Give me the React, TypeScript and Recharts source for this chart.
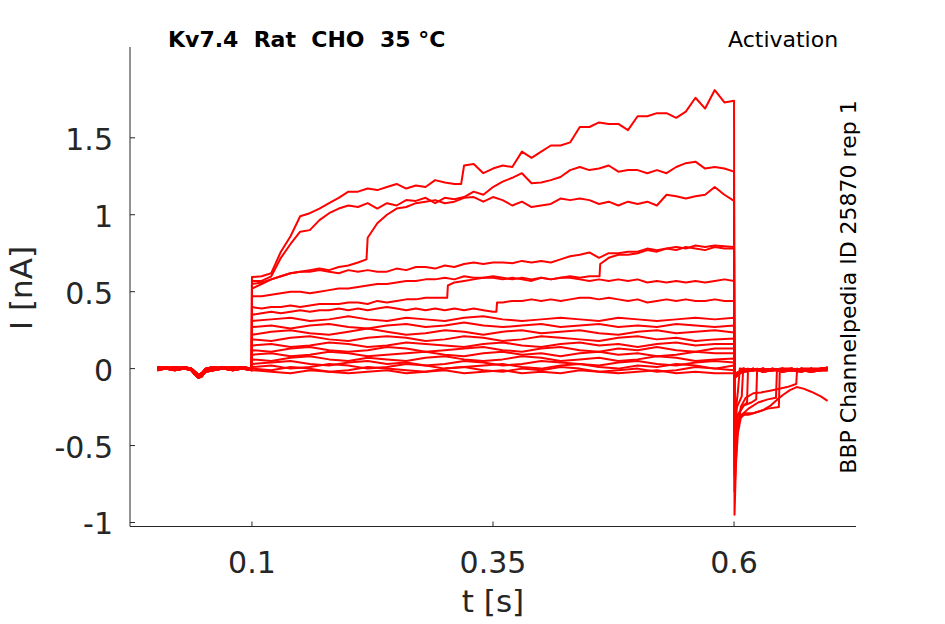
import React from "react";
import { LineChart, Line, XAxis, YAxis } from "recharts";

// ---- time grids (s) ----
const baseT = [0.002, 0.01, 0.02, 0.03, 0.037, 0.041, 0.0445, 0.048, 0.052, 0.06, 0.07, 0.08, 0.09, 0.0998];
const fineT = [
  0.1, 0.11, 0.12, 0.13, 0.14, 0.15, 0.16, 0.17, 0.18, 0.19,
  0.2, 0.21, 0.22, 0.23, 0.24, 0.25, 0.26, 0.27, 0.28, 0.29,
  0.3, 0.31, 0.32, 0.33, 0.34, 0.35, 0.36, 0.37, 0.38, 0.39,
  0.4, 0.41, 0.42, 0.43, 0.44, 0.45, 0.46, 0.47, 0.48, 0.49,
  0.5, 0.51, 0.52, 0.53, 0.54, 0.55, 0.56, 0.57, 0.58, 0.59, 0.6,
];
const coarseT = [
  0.1, 0.12, 0.14, 0.16, 0.18, 0.2, 0.22, 0.24, 0.26, 0.28, 0.3, 0.32, 0.34,
  0.36, 0.38, 0.4, 0.42, 0.44, 0.46, 0.48, 0.5, 0.52, 0.54, 0.56, 0.58, 0.6,
];
const tailT = [0.6005, 0.61, 0.62, 0.63, 0.64, 0.65, 0.66, 0.67, 0.68, 0.69, 0.697];

// ---- holding baseline (nA) ----
const base1 = [0.01, 0.0, 0.01, 0.0, 0.0, -0.03, -0.05, -0.04, -0.01, 0.0, 0.01, 0.0, 0.01, 0.0];
const base2 = [-0.01, 0.0, -0.01, 0.0, -0.01, -0.04, -0.06, -0.05, -0.02, -0.01, 0.0, -0.01, 0.0, -0.01];
const base3 = [0.0, 0.01, 0.0, 0.01, 0.0, -0.02, -0.04, -0.03, 0.0, 0.01, 0.0, 0.01, 0.0, 0.0];

// ---- large sweeps during the step (fine grid) ----
const sweepA = [
  0.595, 0.6, 0.62, 0.76, 0.86, 0.99, 1.01, 1.04, 1.075, 1.11,
  1.15, 1.15, 1.17, 1.16, 1.18, 1.2, 1.17, 1.19, 1.18, 1.225,
  1.21, 1.2, 1.32, 1.33, 1.27, 1.3, 1.32, 1.31, 1.41, 1.37,
  1.41, 1.45, 1.45, 1.47, 1.57, 1.57, 1.6, 1.59, 1.59, 1.55,
  1.64, 1.64, 1.66, 1.66, 1.63, 1.67, 1.76, 1.69, 1.81, 1.73, 1.74,
];
const jumpsA = [[0.317, 1.2]];
const sweepB = [
  0.57, 0.57, 0.6, 0.72, 0.81, 0.89, 0.9, 0.965, 1.01, 1.04,
  1.06, 1.05, 1.075, 1.04, 1.075, 1.06, 1.095, 1.09, 1.11, 1.075,
  1.11, 1.1, 1.115, 1.15, 1.13, 1.18, 1.215, 1.24, 1.27, 1.205,
  1.21, 1.225, 1.245, 1.29, 1.31, 1.29, 1.3, 1.32, 1.28, 1.29,
  1.29, 1.27, 1.29, 1.27, 1.31, 1.335, 1.345, 1.3, 1.31, 1.3, 1.28,
];
const sweepC = [
  0.55, 0.56, 0.58, 0.6, 0.62, 0.63, 0.64, 0.65, 0.64, 0.66,
  0.67, 0.69, 0.85, 0.945, 1.0, 1.04, 1.05, 1.075, 1.085, 1.095,
  1.075, 1.085, 1.11, 1.115, 1.085, 1.115, 1.095, 1.06, 1.085, 1.05,
  1.06, 1.07, 1.105, 1.095, 1.105, 1.095, 1.07, 1.085, 1.06, 1.085,
  1.07, 1.085, 1.06, 1.13, 1.12, 1.105, 1.12, 1.13, 1.18, 1.13, 1.09,
];
const jumpsC = [[0.2188, 0.71]];
const sweepD = [
  0.52, 0.55, 0.58, 0.6, 0.62, 0.63, 0.63, 0.64, 0.63, 0.62,
  0.64, 0.63, 0.64, 0.63, 0.63, 0.65, 0.64, 0.66, 0.66, 0.65,
  0.67, 0.66, 0.68, 0.69, 0.68, 0.69, 0.69, 0.685, 0.7, 0.69,
  0.7, 0.69, 0.71, 0.73, 0.74, 0.755, 0.72, 0.75, 0.75, 0.76,
  0.76, 0.78, 0.77, 0.78, 0.79, 0.78, 0.8, 0.79, 0.8, 0.795, 0.79,
];
const sweepE = [
  0.47, 0.47, 0.48, 0.49, 0.5, 0.5, 0.49, 0.5, 0.51, 0.52,
  0.52, 0.53, 0.54, 0.55, 0.55, 0.56, 0.57, 0.57, 0.58, 0.58,
  0.59, 0.58, 0.6, 0.59, 0.59, 0.6, 0.59, 0.58, 0.59, 0.58,
  0.59, 0.58, 0.59, 0.6, 0.59, 0.6, 0.6, 0.72, 0.74, 0.74,
  0.75, 0.77, 0.76, 0.78, 0.77, 0.79, 0.78, 0.77, 0.79, 0.78, 0.78,
];
const jumpsE = [[0.4605, 0.6], [0.4612, 0.68]];
const sweepF = [
  0.4, 0.39, 0.4, 0.4, 0.41, 0.4, 0.41, 0.42, 0.42, 0.42,
  0.43, 0.43, 0.42, 0.44, 0.43, 0.44, 0.45, 0.45, 0.46, 0.46,
  0.46, 0.56, 0.57, 0.58, 0.59, 0.59, 0.58, 0.59, 0.58, 0.57,
  0.59, 0.58, 0.59, 0.59, 0.58, 0.57, 0.58, 0.57, 0.58, 0.57,
  0.58, 0.56, 0.57, 0.56, 0.57, 0.56, 0.57, 0.56, 0.57, 0.58, 0.57,
];
const jumpsF = [[0.3025, 0.46], [0.3032, 0.54]];
const sweepG = [
  0.35, 0.36, 0.37, 0.36, 0.37, 0.38, 0.37, 0.38, 0.38, 0.39,
  0.38, 0.39, 0.38, 0.39, 0.4, 0.39, 0.38, 0.39, 0.38, 0.39,
  0.38, 0.39, 0.38, 0.39, 0.38, 0.37, 0.43, 0.44, 0.44, 0.45,
  0.44, 0.45, 0.44, 0.45, 0.46, 0.46, 0.45, 0.46, 0.45, 0.44,
  0.45, 0.43, 0.44, 0.45, 0.44, 0.45, 0.44, 0.44, 0.45, 0.44, 0.44,
];
const jumpsG = [[0.3535, 0.37], [0.3542, 0.43]];

// ---- small sweeps during the step (coarse grid) ----
const band1 = [0.31, 0.32, 0.33, 0.31, 0.32, 0.34, 0.32, 0.31, 0.33, 0.32, 0.31, 0.33, 0.34, 0.32, 0.31, 0.32, 0.33, 0.32, 0.31, 0.33, 0.32, 0.31, 0.32, 0.33, 0.32, 0.33];
const band2 = [0.27, 0.28, 0.26, 0.28, 0.29, 0.27, 0.26, 0.28, 0.29, 0.27, 0.28, 0.3, 0.28, 0.27, 0.28, 0.29, 0.27, 0.28, 0.29, 0.27, 0.28, 0.27, 0.29, 0.28, 0.27, 0.28];
const band3 = [0.22, 0.24, 0.25, 0.23, 0.22, 0.24, 0.26, 0.24, 0.22, 0.23, 0.25, 0.24, 0.22, 0.24, 0.25, 0.23, 0.24, 0.25, 0.23, 0.22, 0.24, 0.25, 0.23, 0.24, 0.25, 0.235];
const band4 = [0.19, 0.18, 0.2, 0.21, 0.19, 0.18, 0.2, 0.21, 0.2, 0.18, 0.19, 0.21, 0.2, 0.18, 0.19, 0.21, 0.2, 0.19, 0.18, 0.2, 0.21, 0.19, 0.2, 0.18, 0.19, 0.195];
const band5 = [0.15, 0.16, 0.14, 0.15, 0.17, 0.16, 0.14, 0.15, 0.17, 0.16, 0.15, 0.14, 0.16, 0.17, 0.15, 0.14, 0.16, 0.17, 0.15, 0.16, 0.14, 0.16, 0.17, 0.15, 0.16, 0.16];
const band6 = [0.12, 0.11, 0.13, 0.14, 0.12, 0.11, 0.12, 0.14, 0.13, 0.11, 0.12, 0.13, 0.14, 0.12, 0.11, 0.13, 0.14, 0.12, 0.11, 0.13, 0.12, 0.14, 0.12, 0.11, 0.13, 0.13];
const band7 = [0.09, 0.1, 0.08, 0.09, 0.11, 0.1, 0.08, 0.09, 0.1, 0.11, 0.09, 0.08, 0.1, 0.11, 0.09, 0.1, 0.08, 0.1, 0.11, 0.09, 0.1, 0.08, 0.09, 0.11, 0.1, 0.1];
const band8 = [0.06, 0.05, 0.07, 0.08, 0.06, 0.05, 0.07, 0.06, 0.05, 0.07, 0.08, 0.06, 0.05, 0.06, 0.08, 0.07, 0.05, 0.06, 0.07, 0.05, 0.06, 0.08, 0.07, 0.05, 0.06, 0.065];
const band9 = [0.03, 0.04, 0.05, 0.03, 0.02, 0.04, 0.05, 0.03, 0.04, 0.02, 0.03, 0.05, 0.04, 0.02, 0.03, 0.05, 0.04, 0.03, 0.02, 0.04, 0.05, 0.03, 0.02, 0.04, 0.05, 0.04];
const band10 = [0.01, 0.02, 0.0, 0.01, 0.03, 0.02, 0.0, 0.01, 0.03, 0.02, 0.0, 0.01, 0.02, 0.03, 0.01, 0.0, 0.02, 0.03, 0.01, 0.0, 0.02, 0.01, 0.03, 0.02, 0.0, 0.02];
const band11 = [0.0, -0.01, 0.01, 0.0, -0.02, -0.01, 0.01, 0.0, -0.01, -0.02, 0.0, 0.01, -0.01, -0.02, 0.0, -0.01, 0.01, 0.0, -0.02, -0.01, 0.0, -0.02, -0.01, 0.01, 0.0, -0.01];
const band12 = [-0.01, -0.02, -0.03, -0.01, -0.02, -0.03, -0.02, -0.01, -0.03, -0.02, -0.01, -0.03, -0.02, -0.01, -0.03, -0.02, -0.03, -0.01, -0.02, -0.03, -0.02, -0.01, -0.03, -0.02, -0.03, -0.03];

// ---- tail currents after the step ----
const tailZ1 = [-0.04, 0.0, -0.01, 0.0, -0.01, 0.0, -0.01, 0.0, -0.01, 0.0, 0.0];
const tailZ2 = [-0.06, -0.01, 0.0, -0.02, -0.01, -0.01, 0.0, -0.01, -0.02, -0.01, -0.01];
const tailZ3 = [-0.03, -0.02, -0.01, -0.01, 0.0, -0.02, -0.01, -0.02, 0.0, -0.01, 0.01];
const tailA = [[0.6005, -0.95], [0.602, -0.62], [0.604, -0.42], [0.607, -0.32], [0.612, -0.29], [0.62, -0.29], [0.63, -0.27], [0.638, -0.24], [0.645, -0.2], [0.651, -0.17], [0.658, -0.14], [0.665, -0.12], [0.672, -0.13], [0.68, -0.15], [0.69, -0.18], [0.697, -0.21]];
const tailB = [[0.6005, -0.8], [0.603, -0.45], [0.607, -0.25], [0.612, -0.19], [0.62, -0.16], [0.628, -0.155], [0.64, -0.14], [0.655, -0.12], [0.6645, -0.1], [0.6655, 0.0], [0.67, -0.01], [0.68, 0.0], [0.69, -0.01], [0.697, 0.0]];
const tailC = [[0.6005, -0.7], [0.603, -0.4], [0.607, -0.3], [0.615, -0.3], [0.625, -0.28], [0.635, -0.26], [0.6465, -0.25], [0.6475, 0.0], [0.66, -0.01], [0.67, 0.0], [0.68, -0.01], [0.69, 0.0], [0.697, 0.0]];
const tailD = [[0.6005, -0.65], [0.603, -0.38], [0.608, -0.3], [0.615, -0.26], [0.625, -0.22], [0.635, -0.2], [0.6435, -0.19], [0.6445, -0.01], [0.66, 0.0], [0.67, -0.01], [0.68, 0.0], [0.69, -0.01], [0.697, 0.0]];
const tailE = [[0.6005, -0.55], [0.604, -0.3], [0.61, -0.24], [0.618, -0.22], [0.623, -0.2], [0.624, 0.0], [0.63, -0.01], [0.64, 0.0], [0.65, -0.01], [0.66, 0.0], [0.67, -0.01], [0.68, 0.0], [0.69, 0.0], [0.697, -0.01]];
const tailF = [[0.6005, -0.5], [0.604, -0.3], [0.61, -0.24], [0.6135, -0.22], [0.6145, 0.0], [0.62, -0.01], [0.63, 0.0], [0.64, -0.01], [0.65, 0.0], [0.66, -0.01], [0.67, 0.0], [0.68, -0.01], [0.69, 0.0], [0.697, 0.0]];
const tailG = [[0.6005, -0.45], [0.603, -0.25], [0.608, -0.18], [0.6095, 0.0], [0.62, -0.01], [0.63, 0.0], [0.64, -0.01], [0.65, 0.0], [0.66, 0.0], [0.67, -0.01], [0.68, 0.0], [0.69, -0.01], [0.697, 0.0]];
const tailH = [[0.6005, -0.35], [0.604, -0.15], [0.606, 0.0], [0.62, -0.01], [0.63, 0.0], [0.64, -0.01], [0.65, 0.0], [0.66, -0.01], [0.67, 0.0], [0.68, 0.0], [0.69, -0.01], [0.697, 0.0]];

// ---- ticks and text ----
const xTicks = [0.1, 0.35, 0.6];
const yTicks = [-1, -0.5, 0, 0.5, 1, 1.5];
const titleText = "Kv7.4  Rat  CHO  35 \u00B0C";
const cornerText = "Activation";
const sideText = "BBP Channelpedia ID 25870 rep 1";
const xLabel = "t [s]";
const yLabel = "I [nA]";

type Pt = { t: number; i: number };

function buildSweep(base: number[], stepT: number[], stepI: number[], jumps: number[][], tail: number[][]): Pt[] {
  const pre: Pt[] = baseT.map((t, k) => ({ t, i: base[k] }));
  const mid: Pt[] = stepT.map((t, k) => ({ t, i: stepI[k] }));
  jumps.forEach(([t, i]) => mid.push({ t, i }));
  mid.sort((a, b) => a.t - b.t);
  const post: Pt[] = tail.map(([t, i]) => ({ t, i }));
  return [...pre, ...mid, ...post];
}
const zeroTail = (z: number[]) => tailT.map((t, k) => [t, z[k]]);

const sweeps: Pt[][] = [
  buildSweep(base1, fineT, sweepA, jumpsA, tailA),
  buildSweep(base2, fineT, sweepB, [], tailB),
  buildSweep(base3, fineT, sweepC, jumpsC, tailC),
  buildSweep(base1, fineT, sweepD, [], tailD),
  buildSweep(base2, fineT, sweepE, jumpsE, tailE),
  buildSweep(base3, fineT, sweepF, jumpsF, tailF),
  buildSweep(base1, fineT, sweepG, jumpsG, tailG),
  buildSweep(base2, coarseT, band1, [], tailH),
  buildSweep(base3, coarseT, band2, [], zeroTail(tailZ1)),
  buildSweep(base1, coarseT, band3, [], zeroTail(tailZ2)),
  buildSweep(base2, coarseT, band4, [], zeroTail(tailZ3)),
  buildSweep(base3, coarseT, band5, [], zeroTail(tailZ1)),
  buildSweep(base1, coarseT, band6, [], zeroTail(tailZ2)),
  buildSweep(base2, coarseT, band7, [], zeroTail(tailZ3)),
  buildSweep(base3, coarseT, band8, [], zeroTail(tailZ1)),
  buildSweep(base1, coarseT, band9, [], zeroTail(tailZ2)),
  buildSweep(base2, coarseT, band10, [], zeroTail(tailZ3)),
  buildSweep(base3, coarseT, band11, [], zeroTail(tailZ1)),
  buildSweep(base1, coarseT, band12, [], zeroTail(tailZ2)),
];

const AX = "#262626";
const FONT = "DejaVu Sans";

const XTick = (props: any) => {
  const { x, y, payload } = props;
  return (
    <g>
      <line x1={x} y1={y} x2={x} y2={y - 5} stroke={AX} strokeWidth={1} />
      <text x={x} y={y + 46.5} textAnchor="middle" fontFamily={FONT} fontSize={30} fill={AX}>
        {String(payload.value)}
      </text>
    </g>
  );
};

const YTick = (props: any) => {
  const { x, y, payload } = props;
  return (
    <g>
      <line x1={x} y1={y} x2={x + 5} y2={y} stroke={AX} strokeWidth={1} />
      <text x={x - 17} y={y + 12} textAnchor="end" fontFamily={FONT} fontSize={30} fill={AX}>
        {String(payload.value)}
      </text>
    </g>
  );
};

export default function App() {
  return (
    <div style={{ position: "absolute", left: 0, top: 0, width: 945, height: 624, background: "#fff" }}>
      <LineChart width={945} height={624} margin={{ top: 47, right: 89, bottom: 37.5, left: 0 }}>
        <XAxis
          type="number"
          dataKey="t"
          domain={[-0.0265, 0.7265]}
          allowDataOverflow
          ticks={xTicks}
          interval={0}
          tickSize={0}
          tickMargin={0}
          tickLine={false}
          tick={<XTick />}
          height={60}
          axisLine={{ stroke: AX, strokeWidth: 1 }}
        />
        <YAxis
          type="number"
          dataKey="i"
          domain={[-1.026, 2.09]}
          allowDataOverflow
          ticks={yTicks}
          interval={0}
          tickSize={0}
          tickMargin={0}
          tickLine={false}
          tick={<YTick />}
          width={130}
          axisLine={{ stroke: AX, strokeWidth: 1 }}
        />
        {sweeps.map((d, k) => (
          <Line
            key={k}
            data={d}
            dataKey="i"
            type="linear"
            stroke="#ff0000"
            strokeWidth={2}
            strokeLinejoin="round"
            dot={false}
            activeDot={false}
            isAnimationActive={false}
          />
        ))}
      </LineChart>
      <svg
        width={945}
        height={624}
        style={{ position: "absolute", left: 0, top: 0, pointerEvents: "none" }}
      >
        <text x={168} y={47} fontFamily={FONT} fontWeight="bold" fontSize={22} fill="#000">
          {titleText.replace(/ /g, "\u00A0")}
        </text>
        <text x={728} y={46.5} fontFamily={FONT} fontSize={22} fill="#000">
          {cornerText}
        </text>
        <text
          x={856}
          y={287}
          transform="rotate(-90 856 287)"
          textAnchor="middle"
          fontFamily={FONT}
          fontSize={22}
          fill="#000"
        >
          {sideText}
        </text>
        <text x={493} y={612} textAnchor="middle" fontFamily={FONT} fontSize={31} fill={AX}>
          {xLabel}
        </text>
        <text
          x={31.5}
          y={288}
          transform="rotate(-90 31.5 288)"
          textAnchor="middle"
          fontFamily={FONT}
          fontSize={31}
          fill={AX}
        >
          {yLabel}
        </text>
      </svg>
    </div>
  );
}
